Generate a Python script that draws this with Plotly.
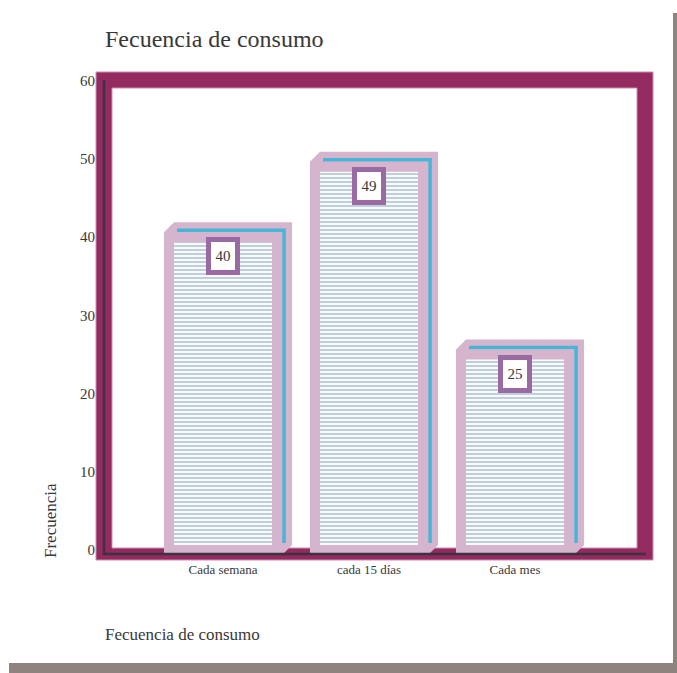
import plotly.graph_objects as go

# Survey data: how often the product is consumed
categories = ["Cada semana", "cada 15 días", "Cada mes"]
frequencies = [40, 49, 25]
y_ticks = [0, 10, 20, 30, 40, 50, 60]

chart_title = "Fecuencia de consumo"
x_title = "Fecuencia de consumo"
y_title = "Frecuencia"

# Page geometry
W, H = 677, 673
ML, MR, MT, MB = 96, 24, 72, 113
PW, PH = W - ML - MR, H - MT - MB
X_RANGE = [-0.87, 2.945]
Y_RANGE = [-1.28, 61.13]
UX = PW / (X_RANGE[1] - X_RANGE[0])   # px per x unit
UY = PH / (Y_RANGE[1] - Y_RANGE[0])   # px per y unit
BAR_W = 0.74

FONT = "Liberation Serif"
TXT = "#383838"
MAGENTA = "#952a60"
PINK = "#d5b5cd"
CYAN = "#45b6d5"
PURPLE = "#9a6ba3"
AXIS = "#3b3440"
SHADOW = "#8e837e"


def px(x_pix):
    """page x pixel -> paper x"""
    return (x_pix - ML) / PW


def py(y_pix):
    """page y pixel -> paper y"""
    return (H - MB - y_pix) / PH


fig = go.Figure()

fig.add_trace(go.Bar(
    x=list(range(len(categories))),
    y=frequencies,
    width=BAR_W,
    marker=dict(
        color="white",
        line=dict(color=PINK, width=10),
        pattern=dict(shape="-", fgcolor="#7f9fb8", bgcolor="white",
                     size=4, solidity=0.55),
    ),
    hoverinfo="skip",
))

shapes = []

# drop shadow of the page
shapes.append(dict(type="rect", xref="paper", yref="paper", layer="below",
                   x0=px(673), x1=px(678), y0=py(13), y1=py(673),
                   fillcolor=SHADOW, line=dict(width=0)))
shapes.append(dict(type="rect", xref="paper", yref="paper", layer="below",
                   x0=px(9), x1=px(678), y0=py(663), y1=py(674),
                   fillcolor=SHADOW, line=dict(width=0)))

# thick wall frame around the plotting area
shapes.append(dict(type="path", xref="paper", yref="paper", layer="below",
                   path=(f"M {px(96)},{py(72)} L {px(653)},{py(72)} L {px(653)},{py(560)} "
                         f"L {px(96)},{py(560)} Z "
                         f"M {px(112)},{py(88)} L {px(112)},{py(548)} L {px(637)},{py(548)} "
                         f"L {px(637)},{py(88)} Z"),
                   fillcolor=MAGENTA, line=dict(color="#c98fb0", width=1)))

# 3-D depth of each bar: top and side faces
D = 10      # depth offset in px
B = 5       # half of the bar outline
for i, v in enumerate(frequencies):
    L = i - BAR_W / 2 - B / UX
    R = i + BAR_W / 2 + B / UX
    T = v + B / UY
    Bt = 0 - B / UY
    dx, dy = D / UX, D / UY
    shapes.append(dict(
        type="path", xref="x", yref="y", layer="below",
        path=(f"M {L},{T} L {L + dx},{T + dy} L {R + dx},{T + dy} "
              f"L {R + dx},{Bt + dy} L {R},{Bt} L {L},{Bt} Z"),
        fillcolor=PINK, line=dict(width=0)))
    # inner cyan strip visible between the front and back edges
    sx, sy = 2 / UX, 2 / UY
    shapes.append(dict(
        type="path", xref="x", yref="y", layer="below",
        path=(f"M {L + 13 / UX},{T + sy} L {R + sx},{T + sy} "
              f"L {R + sx},{Bt + dy + 2 / UY}"),
        line=dict(color=CYAN, width=3.5)))

# dark axis lines
shapes.append(dict(type="line", xref="paper", yref="paper", layer="above",
                   x0=px(104), x1=px(104), y0=py(80), y1=py(555),
                   line=dict(color=AXIS, width=2.5)))
shapes.append(dict(type="line", xref="paper", yref="paper", layer="above",
                   x0=px(103), x1=px(646), y0=py(554), y1=py(554),
                   line=dict(color=AXIS, width=2.5)))

annotations = []
for i, v in enumerate(frequencies):
    annotations.append(dict(
        x=i, y=v, xref="x", yref="y", text=str(v), showarrow=False,
        xanchor="center", yanchor="top", width=24, height=28,
        bgcolor="white", bordercolor=PURPLE, borderwidth=5, borderpad=0,
        font=dict(family=FONT, size=15, color=TXT)))

annotations.append(dict(
    x=px(50), y=py(520), xref="paper", yref="paper", text=y_title,
    showarrow=False, textangle=-90, xanchor="center", yanchor="middle",
    font=dict(family=FONT, size=17, color=TXT)))
annotations.append(dict(
    x=px(103), y=py(634), xref="paper", yref="paper", text=x_title,
    showarrow=False, xanchor="left", yanchor="middle",
    font=dict(family=FONT, size=17, color=TXT)))

fig.update_layout(
    width=W, height=H,
    margin=dict(l=ML, r=MR, t=MT, b=MB),
    paper_bgcolor="white", plot_bgcolor="white",
    showlegend=False,
    title=dict(text=chart_title, x=105 / W, xanchor="left",
               y=1 - 39 / H, yanchor="middle", xref="container", yref="container",
               font=dict(family=FONT, size=24, color=TXT)),
    xaxis=dict(range=X_RANGE, tickvals=list(range(len(categories))),
               ticktext=categories, showgrid=False, zeroline=False,
               showline=False, ticks="",
               tickfont=dict(family=FONT, size=13, color=TXT)),
    yaxis=dict(range=Y_RANGE, tickvals=y_ticks, showgrid=False,
               zeroline=False, showline=False, ticks="",
               tickfont=dict(family=FONT, size=15, color=TXT)),
    shapes=shapes,
    annotations=annotations,
)

fig.write_html("out.html")
